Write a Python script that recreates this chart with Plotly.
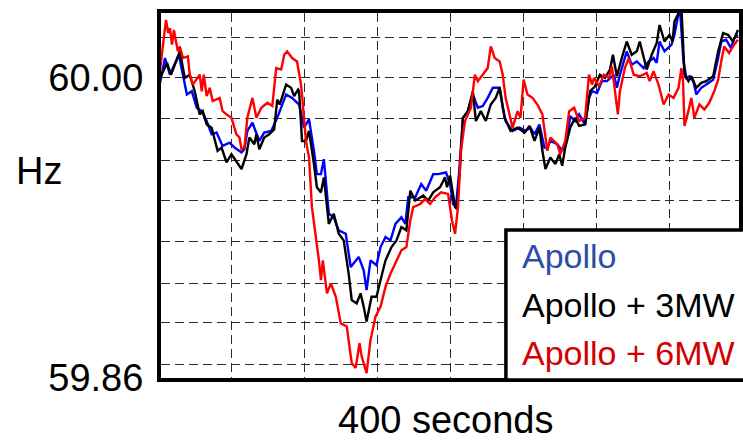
import plotly.graph_objects as go

# ---------------- data (time in seconds, frequency in Hz) ----------------
apollo = [
    (0.7, 59.9977), (4.1, 60.0093), (7.5, 60.0015), (10.9, 60.0070), (13.6, 60.0108),
    (16.4, 60.0015), (19.1, 59.9923), (22.5, 59.9938), (25.9, 59.9861), (29.3, 59.9845),
    (32.7, 59.9799), (36.1, 59.9737), (39.5, 59.9745), (43.6, 59.9683), (48.4, 59.9698),
    (51.8, 59.9675), (56.6, 59.9652), (58.6, 59.9667), (60.6, 59.9753), (64.1, 59.9791),
    (68.8, 59.9706), (72.2, 59.9745), (77.0, 59.9753), (81.1, 59.9814), (83.8, 59.9861),
    (87.2, 59.9923), (91.3, 59.9907), (94.7, 59.9884), (96.1, 59.9876), (99.5, 59.9768),
    (102.9, 59.9807), (106.3, 59.9660), (108.3, 59.9551), (111.1, 59.9551), (113.1, 59.9621),
    (116.5, 59.9366), (119.9, 59.9350), (123.3, 59.9289), (128.1, 59.9273), (131.5, 59.9118),
    (137.0, 59.9165), (140.4, 59.9103), (142.4, 59.9010), (145.1, 59.9149), (149.2, 59.9126),
    (152.0, 59.9211), (155.4, 59.9258), (158.8, 59.9242), (162.2, 59.9319), (166.3, 59.9350),
    (169.0, 59.9319), (171.0, 59.9443), (175.8, 59.9443), (179.9, 59.9505), (183.3, 59.9474),
    (188.1, 59.9551), (191.5, 59.9551), (196.9, 59.9559), (199.7, 59.9505), (201.7, 59.9412),
    (203.7, 59.9397), (205.8, 59.9551), (208.5, 59.9814), (211.9, 59.9845), (215.3, 59.9923),
    (218.7, 59.9861), (222.1, 59.9869), (225.5, 59.9907), (229.0, 59.9954), (233.7, 59.9954),
    (235.8, 59.9861), (237.8, 59.9799), (242.6, 59.9753), (247.3, 59.9768), (251.4, 59.9753),
    (254.8, 59.9768), (257.6, 59.9737), (261.0, 59.9783), (264.4, 59.9675), (266.4, 59.9675),
    (268.5, 59.9706), (273.2, 59.9691), (276.6, 59.9660), (280.1, 59.9722), (282.1, 59.9822),
    (285.5, 59.9799), (288.2, 59.9830), (292.3, 59.9783), (295.0, 59.9907), (297.1, 59.9938),
    (300.5, 59.9930), (303.9, 59.9985), (307.3, 59.9985), (312.1, 60.0015), (314.1, 59.9954),
    (316.2, 60.0015), (320.9, 60.0124), (324.3, 60.0062), (327.8, 60.0077), (332.5, 60.0046),
    (335.9, 60.0077), (339.3, 60.0093), (341.4, 60.0070), (343.4, 60.0170), (346.8, 60.0124),
    (351.6, 60.0155), (353.6, 60.0201), (356.4, 60.0302), (357.7, 60.0294), (359.8, 60.0077),
    (361.8, 60.0000), (363.9, 60.0008), (366.6, 59.9985), (368.6, 59.9923), (372.0, 59.9954),
    (375.4, 59.9969), (380.2, 59.9992), (383.6, 60.0093), (385.7, 60.0170), (389.1, 60.0178),
    (392.5, 60.0139), (394.5, 60.0186), (397.2, 60.0201),
]

apollo_3mw = [
    (0.7, 60.0000), (5.5, 60.0070), (8.2, 60.0015), (12.3, 60.0093), (14.3, 60.0124),
    (17.7, 60.0000), (21.1, 60.0015), (24.5, 59.9938), (27.9, 59.9830), (30.0, 59.9845),
    (32.7, 59.9783), (36.1, 59.9768), (40.2, 59.9660), (42.9, 59.9675), (46.3, 59.9606),
    (49.7, 59.9644), (53.8, 59.9606), (56.6, 59.9575), (60.0, 59.9644), (62.0, 59.9722),
    (65.4, 59.9691), (66.8, 59.9737), (68.8, 59.9667), (72.2, 59.9722), (75.6, 59.9737),
    (79.0, 59.9760), (81.1, 59.9899), (82.8, 59.9876), (87.2, 59.9969), (90.6, 59.9954),
    (92.7, 59.9915), (95.4, 59.9946), (96.1, 59.9938), (98.1, 59.9706), (100.8, 59.9706),
    (102.9, 59.9753), (106.3, 59.9598), (108.3, 59.9490), (111.1, 59.9466), (113.1, 59.9536),
    (116.5, 59.9319), (119.9, 59.9366), (123.3, 59.9273), (126.7, 59.9242), (130.1, 59.9087),
    (132.2, 59.8964), (135.6, 59.8948), (138.3, 59.8995), (140.4, 59.8933), (142.4, 59.8863),
    (145.8, 59.8979), (149.2, 59.8979), (152.0, 59.9057), (155.4, 59.9149), (159.5, 59.9211),
    (162.9, 59.9242), (166.3, 59.9304), (169.7, 59.9289), (172.4, 59.9474), (175.8, 59.9428),
    (181.3, 59.9451), (184.7, 59.9428), (188.1, 59.9466), (192.8, 59.9490), (196.2, 59.9536),
    (197.6, 59.9490), (199.7, 59.9544), (203.1, 59.9397), (204.4, 59.9389), (206.5, 59.9582),
    (208.5, 59.9814), (211.9, 59.9845), (215.3, 59.9938), (217.4, 59.9799), (220.8, 59.9845),
    (224.2, 59.9799), (227.6, 59.9876), (231.0, 59.9907), (233.7, 59.9954), (237.1, 59.9814),
    (241.2, 59.9753), (246.0, 59.9768), (250.8, 59.9745), (254.2, 59.9776), (257.6, 59.9706),
    (261.0, 59.9768), (263.0, 59.9660), (265.1, 59.9575), (268.5, 59.9629), (271.9, 59.9598),
    (274.6, 59.9644), (276.6, 59.9590), (278.7, 59.9675), (282.1, 59.9768), (285.5, 59.9814),
    (288.2, 59.9776), (292.3, 59.9783), (295.7, 59.9938), (299.1, 59.9961), (302.5, 60.0015),
    (306.0, 60.0000), (309.4, 60.0039), (311.4, 60.0108), (314.1, 60.0008), (317.5, 60.0093),
    (320.9, 60.0170), (324.3, 60.0108), (327.8, 60.0124), (329.8, 60.0170), (334.6, 60.0039),
    (338.0, 60.0108), (341.4, 60.0162), (343.4, 60.0247), (346.8, 60.0170), (350.2, 60.0201),
    (352.3, 60.0170), (353.6, 60.0263), (356.4, 60.0302), (358.4, 60.0330), (360.5, 60.0015),
    (363.2, 59.9985), (365.2, 60.0008), (368.6, 59.9954), (372.0, 59.9977), (375.4, 59.9985),
    (380.2, 60.0008), (383.6, 60.0124), (387.0, 60.0209), (390.4, 60.0201), (393.8, 60.0170),
    (397.2, 60.0224),
]

apollo_6mw = [
    (0.7, 60.0039), (4.8, 60.0271), (6.3, 60.0209), (7.5, 60.0232), (8.9, 60.0155),
    (10.2, 60.0224), (12.9, 60.0124), (14.3, 60.0147), (16.4, 60.0093), (19.8, 60.0101),
    (21.1, 60.0015), (23.2, 59.9969), (27.9, 60.0015), (29.3, 59.9938), (30.7, 60.0015),
    (32.7, 59.9915), (34.8, 59.9954), (36.8, 59.9892), (41.6, 59.9907), (43.6, 59.9845),
    (46.3, 59.9830), (49.7, 59.9814), (53.1, 59.9737), (55.2, 59.9722), (56.6, 59.9667),
    (58.6, 59.9675), (60.6, 59.9814), (64.1, 59.9907), (66.8, 59.9814), (70.2, 59.9861),
    (74.3, 59.9884), (77.7, 59.9869), (80.4, 60.0046), (83.8, 60.0039), (85.9, 60.0108),
    (87.9, 60.0124), (91.3, 60.0093), (94.7, 60.0077), (97.4, 59.9969), (98.1, 59.9923),
    (100.8, 59.9706), (102.9, 59.9629), (104.9, 59.9397), (107.7, 59.9258), (109.7, 59.9149),
    (111.1, 59.9057), (112.4, 59.9149), (115.2, 59.8995), (117.9, 59.9041), (121.3, 59.8979),
    (124.7, 59.8855), (128.8, 59.8840), (130.1, 59.8778), (132.2, 59.8670), (134.9, 59.8647),
    (137.6, 59.8763), (139.0, 59.8701), (142.4, 59.8623), (145.1, 59.8778), (148.5, 59.8886),
    (152.0, 59.8933), (155.4, 59.9026), (158.8, 59.9087), (162.2, 59.9134), (166.3, 59.9196),
    (169.7, 59.9211), (172.4, 59.9335), (174.4, 59.9397), (179.2, 59.9412), (182.6, 59.9435),
    (186.0, 59.9412), (189.4, 59.9443), (193.5, 59.9466), (198.3, 59.9459), (201.0, 59.9335),
    (203.1, 59.9273), (205.1, 59.9397), (207.1, 59.9660), (209.9, 59.9799), (214.0, 59.9861),
    (216.7, 60.0015), (218.7, 59.9985), (222.1, 60.0015), (225.5, 60.0046), (227.6, 60.0147),
    (230.3, 60.0093), (233.7, 60.0077), (235.8, 60.0015), (237.8, 59.9907), (240.5, 59.9830),
    (242.6, 59.9768), (246.0, 59.9845), (248.0, 59.9814), (250.1, 59.9992), (252.8, 59.9923),
    (256.2, 59.9907), (259.6, 59.9876), (263.0, 59.9830), (266.4, 59.9660), (268.5, 59.9722),
    (273.2, 59.9691), (275.3, 59.9644), (278.7, 59.9706), (281.4, 59.9845), (284.8, 59.9861),
    (288.2, 59.9799), (292.3, 59.9814), (295.0, 60.0015), (297.1, 59.9969), (298.5, 60.0000),
    (301.9, 59.9961), (305.3, 60.0015), (308.7, 60.0000), (310.7, 60.0054), (312.8, 59.9938),
    (314.8, 59.9830), (316.2, 59.9938), (319.6, 60.0046), (322.3, 60.0093), (325.7, 60.0015),
    (329.8, 60.0008), (334.6, 60.0023), (336.6, 59.9985), (339.3, 60.0031), (342.7, 59.9969),
    (346.2, 59.9876), (349.6, 59.9923), (353.0, 59.9907), (356.4, 59.9954), (358.4, 60.0046),
    (359.5, 59.9985), (360.5, 59.9776), (363.2, 59.9845), (365.2, 59.9907), (367.3, 59.9814),
    (370.7, 59.9876), (374.1, 59.9853), (377.5, 59.9884), (380.9, 59.9938), (383.6, 59.9992),
    (385.7, 60.0077), (387.7, 60.0147), (391.1, 60.0116), (394.5, 60.0155), (397.2, 60.0178),
]

series_names = ["Apollo", "Apollo + 3MW", "Apollo + 6MW"]
series_data = [apollo, apollo_3mw, apollo_6mw]
line_colors = ["#0000ff", "#000000", "#ff0000"]
label_colors = ["#2b4ea6", "#000000", "#d40000"]

y_tick_vals = [59.86, 60.00]
y_tick_text = ["59.86", "60.00"]
y_grid_vals = [60.0191, 59.9809, 59.9617, 59.9426, 59.9235, 59.9043, 59.8857, 59.8665]
x_grid_vals = [50, 100, 150, 200, 250, 300, 350]
x_title = "400 seconds"
y_title = "Hz"

# ---------------- layout geometry ----------------
W, H = 743, 440
L, R, T, B = 161, 0, 13, 62
PW, PH = W - L - R, H - T - B


def fx(px):
    return (px - L) / PW


def fy(py):
    return (H - B - py) / PH


FONT = "Liberation Sans, Arial, Helvetica, sans-serif"
GRID = dict(showgrid=True, gridcolor="#2a2a2a", gridwidth=1.2, griddash="9px,5px")

fig = go.Figure()
for name, data, color in zip(series_names, series_data, line_colors):
    t = [p[0] for p in data]
    f = [p[1] for p in data]
    fig.add_trace(go.Scatter(x=t, y=f, mode="lines", name=name, showlegend=False,
                             line=dict(color=color, width=2.4)))

fig.update_layout(
    width=W, height=H, autosize=False,
    margin=dict(l=L, r=R, t=T, b=B, pad=0),
    paper_bgcolor="white", plot_bgcolor="white",
    font=dict(family=FONT, color="black", size=38),
    xaxis=dict(range=[1.36, 397.9], showline=True, linewidth=4, linecolor="black",
               mirror=True, tickmode="array", tickvals=x_grid_vals, showticklabels=False,
               ticks="", zeroline=False, **GRID),
    yaxis=dict(range=[59.86, 60.0303], showline=True, linewidth=4, linecolor="black",
               mirror=True, tickmode="array", tickvals=y_tick_vals, ticktext=y_tick_text,
               ticks="", zeroline=False, tickfont=dict(size=38, family=FONT),
               ticklabelstandoff=6,
               minor=dict(tickmode="array", tickvals=y_grid_vals, ticks="", **GRID),
               **GRID),
)

annotations = [
    dict(text=y_title, xref="paper", yref="paper", x=fx(38.5), y=fy(171),
         xanchor="center", yanchor="middle", showarrow=False,
         font=dict(size=38, family=FONT, color="black")),
    dict(text=x_title, xref="paper", yref="paper", x=fx(447.5), y=fy(420),
         xanchor="center", yanchor="middle", showarrow=False,
         font=dict(size=38, family=FONT, color="black")),
]
row_y = [256, 304.5, 352.5]
for name, c, ry in zip(series_names, label_colors, row_y):
    annotations.append(dict(text=name, xref="paper", yref="paper", x=fx(522), y=fy(ry),
                            xanchor="left", yanchor="middle", showarrow=False,
                            font=dict(size=34, family=FONT, color=c)))
fig.update_layout(annotations=annotations)

fig.add_shape(type="rect", xref="paper", yref="paper", x0=fx(508.3), x1=fx(770),
              y0=fy(380), y1=fy(230), line=dict(color="black", width=3.5),
              fillcolor="white", layer="above")

fig.write_html("out.html")
